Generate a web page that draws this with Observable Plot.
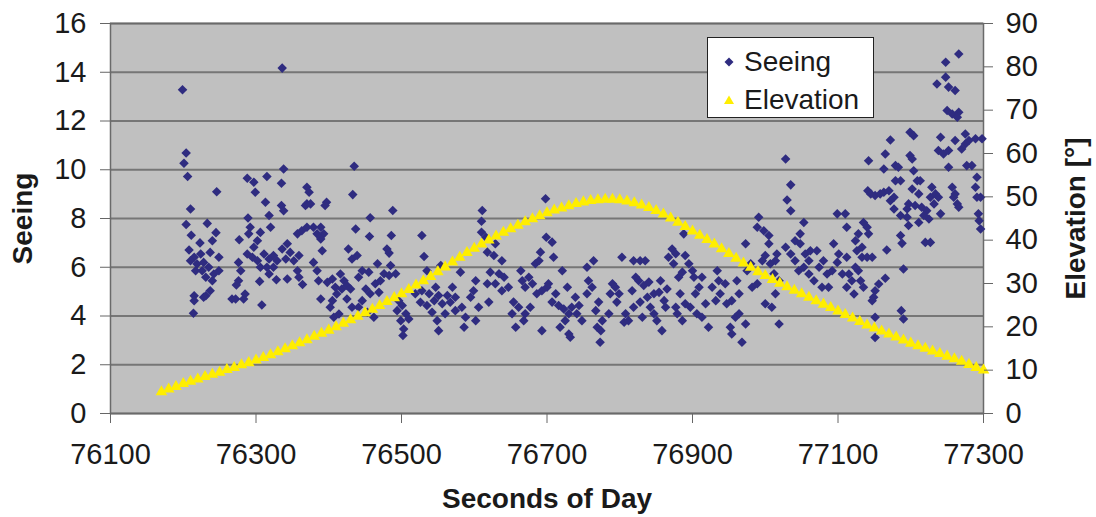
<!DOCTYPE html>
<html>
<head>
<meta charset="utf-8">
<script src="https://cdn.jsdelivr.net/npm/d3@7"></script>
<script src="https://cdn.jsdelivr.net/npm/@observablehq/plot@0.6"></script>
<style>
  body { margin: 0; background: #fff; font-family: "Liberation Sans", Arial, sans-serif; }
  #wrap { position: relative; width: 1096px; height: 517px; overflow: hidden; }
  g[aria-label="x-axis label"], g[aria-label="y-axis label"] { font-weight: bold; font-size: 28px; }
  #legend { position: absolute; left: 707px; top: 37px; width: 167px; height: 81px; box-sizing: border-box;
            border: 1px solid #222; background: #fff; color: #1a1a1a; font-size: 28px; }
  #legend .row { position: absolute; left: 0; height: 30px; display: flex; align-items: center; }
  #legend svg { margin-left: 14px; margin-right: 8px; }
</style>
</head>
<body>
<div id="wrap"></div>
<script>
// Seeing series: time (seconds of day) and seeing values
const seeingT = [
  76336,76199,76204,76201,76206,76246,76210,76204,76233,76211,
  76245,76240,76223,76208,76215,76224,76237,76249,76210,76219,
  76228,76217,76226,76235,76242,76231,76249,76240,76237,76231,
  76228,76215,76215,76214,76277,76289,76288,76297,76299,76315,
  76335,76338,76313,76335,76338,76318,76320,76292,76290,76306,
  76302,76297,76288,76295,76302,76311,76318,76324,76306,76315,
  76324,76329,76318,76328,76305,76276,76279,76276,76273,76267,
  76272,76285,76283,76308,76343,76336,76347,76357,76363,76370,
  76341,76352,76359,76343,76357,76359,76364,76370,76373,76370,
  76368,76375,76379,76389,76393,76384,76389,76397,76395,76379,
  76384,76391,76386,76389,76398,76405,76409,76411,76416,76421,
  76418,76425,76430,76405,76402,76407,76414,76432,76425,76435,
  76433,76437,76427,76432,
  76457,76488,76456,76486,76480,76483,76439,76467,76485,76446,
  76455,76476,76483,76492,76441,76464,76471,76451,76457,76446,
  76469,76453,76462,76441,76496,76501,76494,76506,76499,76510,
  76503,76502,76528,76531,76535,76554,76519,76528,76538,76547,
  76551,76526,76535,76545,76556,76563,76570,76574,76567,76542,
  76549,76551,76560,76574,76583,76581,76588,76586,76595,76602,
  76599,76606,76602,76611,76610,76610,76616,76618,76629,76627,
  76638,76622,76634,76629,76641,76638,76647,76618,76620,76654,
  76652,76657,76664,76666,76670,76675,76680,76684,76689,76691,
  76686,76693,76700,76661,76670,76677,76668,76693,76698,76699,
  76707,76709,76702,76712,76707,76716,76723,76730,76725,76718,
  76730,76721,76728,
  76734,76741,76744,76739,76748,76732,76755,76764,76757,76762,
  76755,76771,76767,76776,76769,76774,76773,76785,76790,76794,
  76787,76799,76796,76803,76808,76806,76812,76819,76817,76822,
  76819,76828,76835,76826,76833,76840,76828,76838,76842,76831,
  76847,76851,76858,76847,76854,76861,76863,76856,76865,76867,
  76872,76877,76874,76881,76886,76888,76890,76895,76900,76902,
  76883,76890,76877,76879,76886,76897,76904,76913,76909,76906,
  76913,76918,76922,76927,76934,76936,76932,76938,76945,76947,
  76954,76952,76954,76959,76964,76968,76973,76964,76961,76973,
  76975,76980,76982,76989,76991,76989,76998,77005,77005,77000,
  76996,77007,77014,77012,77019,77014,77000,77009,77019,
  77028,77035,77030,77035,77016,77028,77035,77041,77048,77053,
  77048,77055,77062,77071,77041,77046,77053,77060,77060,77067,
  77074,77080,77085,77078,77087,77092,77094,77099,77110,77101,
  77099,77106,77112,77115,77112,77119,77122,77112,77124,77128,
  77126,77133,77135,77140,77142,77133,77140,77147,77128,77135,
  77124,77131,77167,77165,77156,77151,77149,77147,77151,77151,
  77190,77187,77190,77186,77188,77142,77141,77145,77151,77158,
  77165,77172,77163,77163,77170,77177,77172,77179,77183,77179,
  77186,77177,77186,77195,77197,77195,77197,77199,77204,77199,
  77202,77204,77209,77213,77202,77211,77206,77215,77222,77225,
  77218,77211,77227,77232,77234,77229,77238,77241,77220,77227,
  77241,77238,77245,77252,77252,77257,77261,77264,77259,77266,
  77261,77270,77275,77275,77280,77284,77277,77289,77298,77291,
  77289,77291,77296,77293,77294,77296,77248,77266,77236,77248,
  77252,77261,77250,77257,77266,77264
];
const seeingV = [
  14.17,13.28,10.69,10.27,9.72,9.10,8.39,7.75,7.80,7.31,
  7.42,7.09,7.00,6.71,6.41,6.54,6.61,6.41,6.27,6.13,
  6.20,5.86,5.86,6.00,5.72,5.59,5.86,5.45,5.04,4.83,
  4.77,4.83,4.63,4.11,7.13,8.02,9.65,9.49,9.08,9.72,
  9.45,10.03,8.67,8.53,8.32,8.12,7.64,7.64,7.37,7.43,
  7.09,6.82,6.54,6.41,6.27,6.54,6.34,6.48,6.00,6.00,
  6.00,6.27,5.72,5.49,5.42,6.20,5.86,5.45,5.27,4.70,
  4.70,4.90,4.70,4.45,6.96,6.75,6.61,7.37,7.50,7.64,
  6.34,6.27,6.48,5.52,5.86,5.59,5.29,9.28,9.08,8.60,
  8.53,8.60,7.64,7.64,7.37,7.37,7.16,8.67,8.53,6.20,
  5.86,6.68,5.45,4.70,5.38,5.52,5.18,4.90,5.72,5.45,
  5.11,5.25,5.11,4.63,4.36,3.95,4.08,4.36,4.70,10.14,
  8.98,7.57,6.75,6.34,
  8.03,8.33,7.26,7.30,6.75,6.58,6.48,6.14,6.07,5.86,
  5.80,5.73,5.66,5.73,5.59,5.32,5.45,5.11,4.91,4.63,
  4.97,4.15,3.95,4.36,4.63,4.43,4.22,4.09,3.81,3.88,
  3.47,3.20,7.30,6.44,5.86,6.07,4.91,5.04,4.91,5.18,
  4.84,4.56,4.43,4.63,4.50,4.84,5.18,4.77,4.56,4.15,
  3.81,3.40,4.09,4.22,4.36,5.80,3.95,3.54,4.77,5.45,
  5.04,4.36,3.81,8.33,7.89,7.44,7.23,6.62,6.96,6.48,
  6.27,5.80,5.73,5.32,5.59,5.04,5.18,5.32,4.57,4.57,
  4.09,3.54,5.86,5.45,5.18,5.59,5.32,6.14,6.27,6.62,
  4.91,5.04,5.18,4.36,4.09,4.36,3.81,3.40,8.81,7.23,
  7.03,6.41,5.32,4.91,4.57,4.43,4.29,4.09,3.81,3.54,
  3.26,5.86,5.18,
  4.36,4.09,4.43,4.77,3.81,3.13,6.00,6.27,5.45,5.18,
  4.91,4.57,4.22,3.81,3.54,3.40,2.92,4.09,5.32,5.18,
  4.91,4.91,4.57,6.41,4.09,3.74,3.81,4.36,5.04,5.59,
  6.27,6.27,6.27,5.45,5.25,5.39,4.57,4.77,4.36,3.95,
  4.09,3.81,3.40,4.91,4.97,4.63,4.36,5.45,5.11,6.41,
  6.75,6.55,6.14,5.59,5.80,7.37,6.48,6.14,5.86,5.59,
  4.91,4.50,4.36,4.09,3.81,4.36,4.91,5.59,5.18,4.09,
  3.95,4.50,3.54,5.18,5.86,5.45,4.63,4.91,5.32,4.50,
  4.63,3.54,3.26,3.95,4.09,2.92,3.67,4.91,5.45,6.96,
  5.86,6.14,5.18,5.32,8.05,7.64,7.50,7.30,6.96,6.48,
  6.27,6.14,6.27,5.73,5.45,4.91,4.50,4.36,3.67,
  10.44,9.38,8.76,8.32,6.54,6.82,6.54,7.09,7.37,7.84,
  6.96,6.54,6.68,6.68,6.27,5.86,6.00,6.27,5.72,5.45,
  6.00,6.27,5.72,5.18,5.18,5.86,6.96,8.19,8.19,6.54,
  6.20,5.72,6.41,5.72,5.18,5.45,4.90,7.64,7.09,7.37,
  6.68,6.82,7.84,7.64,7.37,6.41,6.41,6.41,5.86,5.18,
  6.00,5.45,6.71,5.55,5.31,5.04,4.77,4.63,3.95,3.12,
  5.93,4.22,3.88,7.30,6.98,10.37,9.14,9.01,8.94,9.01,
  10.65,11.22,10.03,9.08,9.14,8.87,8.73,10.17,10.10,9.55,
  9.55,8.39,8.12,8.05,7.71,8.39,8.60,11.54,11.40,10.58,
  10.44,9.96,9.55,9.55,9.21,9.01,8.53,8.46,8.32,7.98,
  8.12,7.84,8.87,8.60,9.01,9.28,8.87,8.19,7.02,7.02,
  11.33,10.79,10.65,10.79,10.10,9.28,9.01,8.60,8.87,8.46,
  11.20,10.85,11.47,11.06,11.20,10.17,10.17,11.27,11.27,9.69,
  9.28,8.87,8.87,8.19,7.91,7.57,14.41,14.75,13.52,13.80,
  13.39,13.25,12.43,12.29,12.36,12.15
];

// Elevation series (degrees), one triangle every 10 s
const elevT = [
  76170,76180,76190,76200,76210,76220,76230,76240,76250,76260,
  76270,76280,76290,76300,76310,76320,76330,76340,76350,76360,
  76370,76380,76390,76400,76410,76420,76430,76440,76450,76460,
  76470,76480,76490,76500,76510,76520,76530,76540,76550,76560,
  76570,76580,76590,76600,76610,76620,76630,76640,76650,76660,
  76670,76680,76690,76700,76710,76720,76730,76740,76750,76760,
  76770,76780,76790,76800,76810,76820,76830,76840,76850,76860,
  76870,76880,76890,76900,76910,76920,76930,76940,76950,76960,
  76970,76980,76990,77000,77010,77020,77030,77040,77050,77060,
  77070,77080,77090,77100,77110,77120,77130,77140,77150,77160,
  77170,77180,77190,77200,77210,77220,77230,77240,77250,77260,
  77270,77280,77290,77300
];
const elevV = [
  5.0,5.6,6.2,6.9,7.4,7.9,8.5,9.0,9.5,10.1,
  10.6,11.2,11.7,12.3,12.9,13.5,14.2,14.9,15.6,16.3,
  17.0,17.8,18.5,19.2,20.0,20.8,21.6,22.4,23.2,24.0,
  24.9,25.8,26.7,27.6,28.6,29.6,30.6,31.6,32.7,33.8,
  34.9,36.0,37.1,38.1,39.1,40.0,40.9,41.8,42.6,43.4,
  44.2,44.9,45.6,46.3,46.9,47.4,47.9,48.4,48.8,49.1,
  49.3,49.4,49.4,49.3,49.0,48.6,48.1,47.5,46.8,46.0,
  45.1,44.1,43.1,42.1,41.1,40.1,39.1,38.0,36.9,35.8,
  34.7,33.7,32.7,31.8,30.9,30.0,29.2,28.4,27.6,26.8,
  26.0,25.2,24.4,23.6,22.8,22.0,21.2,20.4,19.7,19.0,
  18.3,17.6,16.9,16.2,15.6,15.0,14.4,13.8,13.2,12.6,
  12.0,11.3,10.6,10.0
];

const xTicks = [76100, 76300, 76500, 76700, 76900, 77100, 77300];
const seeingTicks = [0, 2, 4, 6, 8, 10, 12, 14, 16];
const elevTicks = [0, 10, 20, 30, 40, 50, 60, 70, 80, 90];
const seeingMax = 16, elevMax = 90;

const seeing = seeingT.map((t, i) => ({t, v: seeingV[i]}));
const elevation = elevT.map((t, i) => ({t, e: elevV[i]}));
const toLeft = e => e * seeingMax / elevMax;

const chart = Plot.plot({
  width: 1096,
  height: 517,
  marginLeft: 110,
  marginRight: 113,
  marginTop: 23,
  marginBottom: 104,
  style: {fontFamily: "'Liberation Sans', Arial, sans-serif", background: "#fff", color: "#1a1a1a", overflow: "visible"},
  x: {domain: [76100, 77300]},
  y: {domain: [0, 16]},
  marks: [
    Plot.frame({fill: "#c0c0c0", stroke: null}),
    Plot.gridY(seeingTicks, {stroke: "#767676", strokeOpacity: 1, strokeWidth: 2}),
    Plot.frame({stroke: "#6a6a6a", strokeWidth: 1.5}),
    Plot.dot(seeing, {x: "t", y: "v", symbol: "diamond2", r: 4.3, fill: "#2f2c80", stroke: null}),
    Plot.dot(elevation, {x: "t", y: d => toLeft(d.e), symbol: "triangle", r: 4.3, fill: "#ffee00", stroke: null}),
    Plot.axisX(xTicks, {tickSize: 10, tickPadding: 20, fontSize: 29, stroke: "#666", tickFormat: d => String(d),
      label: "Seconds of Day", labelAnchor: "center", labelOffset: 94, labelArrow: false}),
    Plot.axisY(seeingTicks, {anchor: "left", tickSize: 10, tickPadding: 14, fontSize: 29, stroke: "#666",
      tickFormat: d => String(d), label: "Seeing", labelAnchor: "center", labelOffset: 98, labelArrow: false}),
    Plot.axisY(elevTicks.map(toLeft), {anchor: "right", tickSize: 9, tickPadding: 13, fontSize: 29, stroke: "#666",
      tickFormat: d => String(Math.round(d * elevMax / seeingMax)), label: "Elevation [°]", labelAnchor: "center",
      labelOffset: 101, labelArrow: false})
  ]
});

const wrap = document.getElementById("wrap");
wrap.appendChild(chart);

const legend = document.createElement("div");
legend.id = "legend";
legend.innerHTML = `
  <div class="row" style="top:9px"><svg width="14" height="14" viewBox="-7 -7 14 14"><path d="M0,-4.5L4.5,0L0,4.5L-4.5,0Z" fill="#2f2c80"/></svg><span>Seeing</span></div>
  <div class="row" style="top:47px"><svg width="14" height="14" viewBox="-7 -7 14 14"><path d="M0,-4.5L5,4L-5,4Z" fill="#ffee00"/></svg><span>Elevation</span></div>`;
wrap.appendChild(legend);
</script>
</body>
</html>
